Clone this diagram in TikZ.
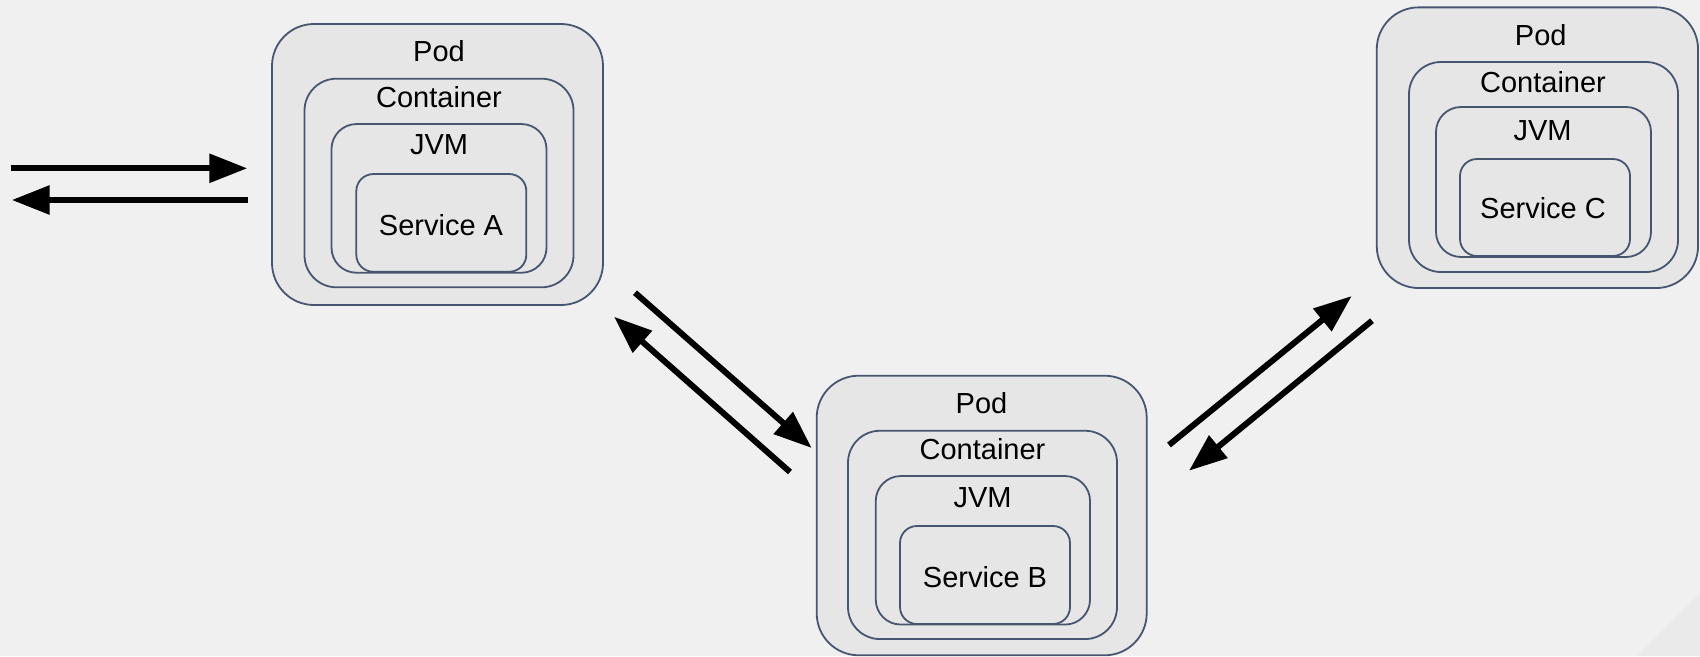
\documentclass[tikz,border=0pt]{standalone}
\usepackage{fontspec}
\setmainfont{Liberation Sans}
\usetikzlibrary{arrows.meta}
\definecolor{bgc}{RGB}{240,240,240}
\definecolor{cornerc}{RGB}{234,234,234}
\definecolor{boxfill}{RGB}{230,230,230}
\definecolor{boxline}{RGB}{70,86,112}
\begin{document}
\begin{tikzpicture}[x=1pt,y=-1pt,
  box/.style={draw=boxline,line width=1.8pt,fill=boxfill,inner sep=0pt,outer sep=0pt},
  podbox/.style={box,rounded corners=42pt},
  contbox/.style={box,rounded corners=32pt},
  jvmbox/.style={box,rounded corners=25pt},
  svcbox/.style={box,rounded corners=17pt},
  lbl/.style={font=\fontsize{29}{34}\selectfont,inner sep=0pt,anchor=base,text=black},
  flow/.style={line width=6pt,-{Triangle[length=38pt,width=28pt]}}]

% canvas
\fill[bgc] (0,0) rectangle (1700,656);
\useasboundingbox (0,0) rectangle (1700,656);
\fill[cornerc] (1637,656) -- (1700,593) -- (1700,656) -- cycle;

% ---- Pod A ----
\node[podbox,minimum width=331pt,minimum height=281pt]   (podA)  at (437.5,164.5) {};
\node[contbox,minimum width=269pt,minimum height=208.6pt] (contA) at (439,183) {};
\node[jvmbox,minimum width=215pt,minimum height=148.7pt]  (jvmA)  at (439,198.4) {};
\node[svcbox,minimum width=170pt,minimum height=97.7pt]   (svcA)  at (441.3,222.9) {};
\node[lbl] (podAt)  at (439,61.1)  {Pod};
\node[lbl] (contAt) at (439,107.1) {Container};
\node[lbl] (jvmAt)  at (439,154.4) {JVM};
\node[lbl] (svcAt)  at (441,235.4) {Service A};

% ---- Pod B ----
\node[podbox,minimum width=330pt,minimum height=279.6pt]  (podB)  at (981.7,515.5) {};
\node[contbox,minimum width=269pt,minimum height=208.3pt] (contB) at (982.5,534.9) {};
\node[jvmbox,minimum width=214.3pt,minimum height=148.5pt] (jvmB) at (982.9,550.3) {};
\node[svcbox,minimum width=170pt,minimum height=98pt]     (svcB)  at (985,575) {};
\node[lbl] (podBt)  at (981.5,413.4) {Pod};
\node[lbl] (contBt) at (982.5,459.4) {Container};
\node[lbl] (jvmBt)  at (982.5,507.1) {JVM};
\node[lbl] (svcBt)  at (985,587.1)   {Service B};

% ---- Pod C ----
\node[podbox,minimum width=321.3pt,minimum height=280.7pt] (podC)  at (1537.4,147.7) {};
\node[contbox,minimum width=269pt,minimum height=210pt]    (contC) at (1543.5,167) {};
\node[jvmbox,minimum width=215pt,minimum height=150pt]     (jvmC)  at (1543.5,182) {};
\node[svcbox,minimum width=170pt,minimum height=97pt]      (svcC)  at (1545,207.5) {};
\node[lbl] (podCt)  at (1540.7,45.4)  {Pod};
\node[lbl] (contCt) at (1543,92.4)    {Container};
\node[lbl] (jvmCt)  at (1542.5,140.4) {JVM};
\node[lbl] (svcCt)  at (1543,218.4)   {Service C};

% ---- request / response flows ----
\coordinate (inS)  at (10.7,168.3);  \coordinate (inE)  at (247.3,168.3);
\coordinate (outS) at (248,200);     \coordinate (outE) at (11.7,200);
\coordinate (abS)  at (635,292.7);   \coordinate (abE)  at (811.7,448);
\coordinate (baS)  at (790,472);     \coordinate (baE)  at (614,316.7);
\coordinate (bcS)  at (1169,445);    \coordinate (bcE)  at (1351.7,296);
\coordinate (cbS)  at (1372,320.7);  \coordinate (cbE)  at (1189,470.7);

\draw[flow] (inS) -- (inE);
\draw[flow] (outS) -- (outE);
\draw[flow] (abS) -- (abE);
\draw[flow] (baS) -- (baE);
\draw[flow] (bcS) -- (bcE);
\draw[flow] (cbS) -- (cbE);
\end{tikzpicture}
\end{document}
